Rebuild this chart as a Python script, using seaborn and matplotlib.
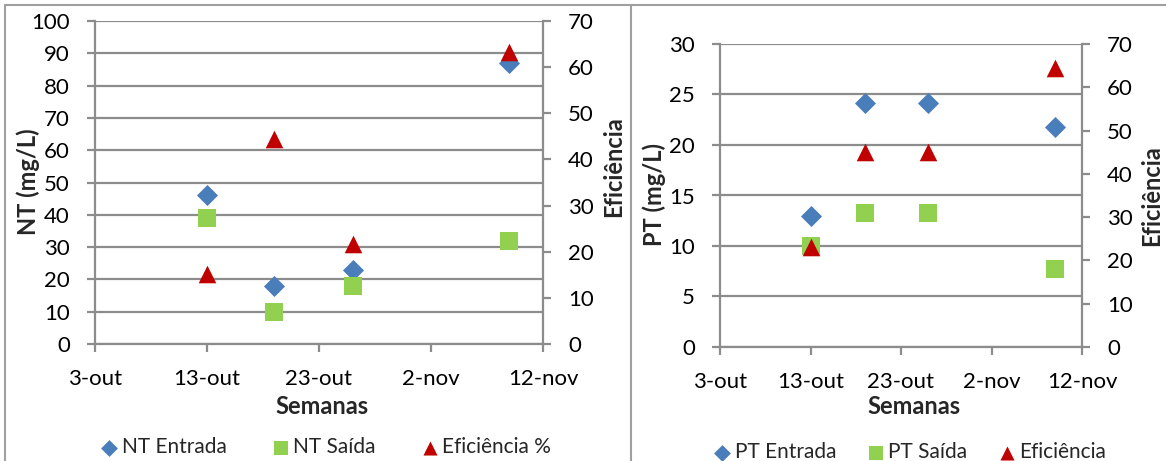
import matplotlib
matplotlib.use("Agg")
import matplotlib.pyplot as plt
from matplotlib.lines import Line2D
import pandas as pd
import seaborn as sns

# ---- data ----
datas = ["2013-10-13", "2013-10-19", "2013-10-26", "2013-11-09"]

nt_entrada = [46, 18, 23, 87]
nt_saida = [39, 10, 18, 32]
nt_eficiencia = [15.2, 44.4, 21.7, 63.2]

pt_entrada = [13.0, 24.2, 24.2, 21.8]
pt_saida = [10.0, 13.3, 13.3, 7.7]
pt_eficiencia = [23.1, 45.0, 45.0, 64.5]

xtick_datas = ["2013-10-03", "2013-10-13", "2013-10-23", "2013-11-02", "2013-11-12"]
xtick_labels = ["3-out", "13-out", "23-out", "2-nov", "12-nov"]

# ---- style ----
sns.set_theme(style="white")
plt.rcParams["font.family"] = ["Lato", "DejaVu Sans"]

AZUL = "#4A7EBB"
VERDE = "#92D050"
VERMELHO = "#C00000"
CINZA = "#8C8C8C"
BORDA = "#A0A0A0"

TICK_FS = 16
LABEL_FS = 17
LEG_FS = 15

W, H = 1166, 461
fig = plt.figure(figsize=(W / 100, H / 100), dpi=100)
fig.patch.set_facecolor("white")


def box(x0, x1, ytop, ybot):
    return [x0 / W, 1 - ybot / H, (x1 - x0) / W, (ybot - ytop) / H]


def painel(rect, entrada, saida, efic, nomes, ylabel, ymax, ystep,
           ylab_xy, ef_xy, sem_xy, leg_xy, leg_gap):
    ax = fig.add_axes(rect)
    df = pd.DataFrame({
        "data": pd.to_datetime(datas),
        "entrada": entrada,
        "saida": saida,
        "efic": efic,
    })
    sns.scatterplot(data=df, x="data", y="entrada", marker="D", s=115,
                    color=AZUL, linewidth=0, ax=ax, label=nomes[0], legend=False)
    sns.scatterplot(data=df, x="data", y="saida", marker="s", s=175,
                    color=VERDE, linewidth=0, ax=ax, label=nomes[1], legend=False)
    ax2 = ax.twinx()
    sns.scatterplot(data=df, x="data", y="efic", marker="^", s=160,
                    color=VERMELHO, linewidth=0, ax=ax2, label=nomes[2], legend=False)

    xt = pd.to_datetime(xtick_datas)
    ax.set_xlim(xt[0], xt[-1])
    ax.set_xticks(xt)
    ax.set_xticklabels(xtick_labels)
    ax.set_ylim(0, ymax)
    ax.set_yticks(range(0, ymax + 1, ystep))
    ax2.set_ylim(0, 70)
    ax2.set_yticks(range(0, 71, 10))

    ax.yaxis.grid(True, color=CINZA, linewidth=1.6)
    ax.xaxis.grid(False)
    ax.set_axisbelow(True)

    for a in (ax, ax2):
        a.set_facecolor("none")
        for s in a.spines.values():
            s.set_visible(False)
    ax.spines["left"].set_visible(True)
    ax.spines["bottom"].set_visible(True)
    ax2.spines["right"].set_visible(True)
    for s in (ax.spines["left"], ax.spines["bottom"], ax2.spines["right"]):
        s.set_color(CINZA)
        s.set_linewidth(1.6)

    ax.tick_params(axis="both", which="both", direction="out", length=6,
                   width=1.6, color=CINZA, labelsize=TICK_FS, labelcolor="black")
    ax.tick_params(axis="y", pad=12, left=True)
    ax.tick_params(axis="x", pad=12, bottom=True)
    ax2.tick_params(axis="y", direction="out", length=6, width=1.6,
                    color=CINZA, labelsize=TICK_FS, labelcolor="black", pad=12,
                    right=True)

    ax.set_ylabel(ylabel, fontsize=LABEL_FS, fontweight="bold", va="center", ha="center")
    ax.yaxis.set_label_coords(*ylab_xy)
    ax2.set_ylabel("Eficiência", fontsize=LABEL_FS, fontweight="bold",
                   va="center", ha="center", rotation=90)
    ax2.yaxis.set_label_coords(*ef_xy)
    ax.set_xlabel("Semanas", fontsize=LABEL_FS, fontweight="bold", va="center")
    ax.xaxis.set_label_coords(*sem_xy)

    h1, l1 = ax.get_legend_handles_labels()
    h2, l2 = ax2.get_legend_handles_labels()
    fig.legend(h1 + h2, l1 + l2, loc="center",
               bbox_to_anchor=(leg_xy[0] / W, 1 - leg_xy[1] / H),
               ncol=3, frameon=False, fontsize=LEG_FS, markerscale=0.8,
               handletextpad=0.1, columnspacing=leg_gap, handlelength=1.0)
    return ax, ax2


# painel do nitrogênio total
r1 = box(95, 543, 21, 344)
painel(r1, nt_entrada, nt_saida, nt_eficiencia,
       ["NT Entrada", "NT Saída", "Eficiência %"], "NT (mg/L)", 100, 10,
       ylab_xy=((28 - 95) / 448, (344 - 182) / 323),
       ef_xy=((614 - 95) / 448, (344 - 167) / 323),
       sem_xy=((322 - 95) / 448, (344 - 407) / 323),
       leg_xy=(325, 447), leg_gap=2.1)

# painel do fósforo total
r2 = box(720, 1082, 44, 347)
painel(r2, pt_entrada, pt_saida, pt_eficiencia,
       ["PT Entrada", "PT Saída", "Eficiência"], "PT (mg/L)", 30, 5,
       ylab_xy=((654 - 720) / 362, (347 - 195) / 303),
       ef_xy=((1152 - 720) / 362, (347 - 196) / 303),
       sem_xy=((914 - 720) / 362, (347 - 407) / 303),
       leg_xy=(909, 452), leg_gap=1.4)

# molduras dos gráficos
for xs, ys in [((5 / W, 5 / W), (1 - 5 / H, 0)),
               ((631 / W, 631 / W), (1 - 5 / H, 0)),
               ((5 / W, 1), (1 - 5 / H, 1 - 5 / H))]:
    fig.add_artist(Line2D(xs, ys, color=BORDA, linewidth=1.5))

fig.savefig("out.png", dpi=100, facecolor="white")
